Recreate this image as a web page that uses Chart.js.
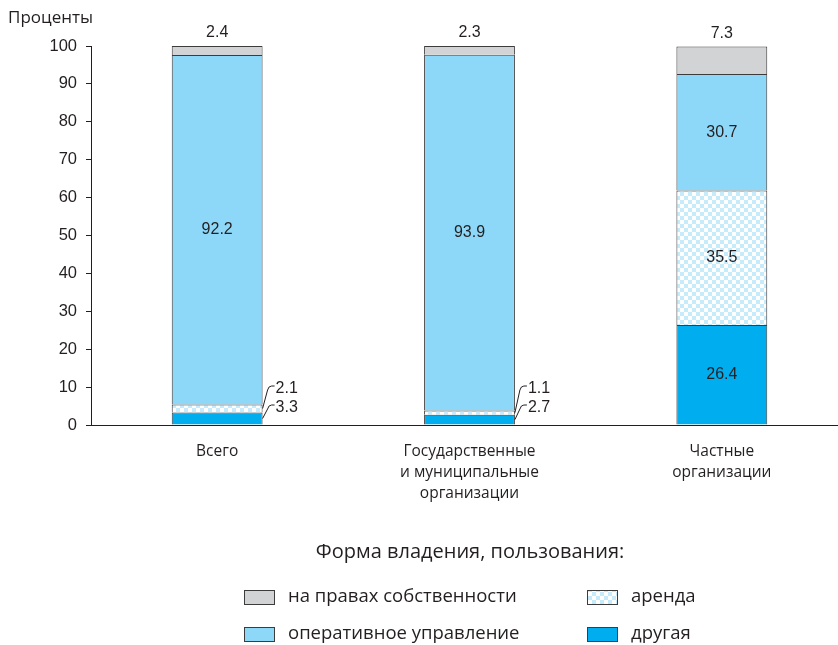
<!DOCTYPE html>
<html lang="ru">
<head>
<meta charset="utf-8">
<script src="https://cdn.jsdelivr.net/npm/chart.js@4.4.1/dist/chart.umd.min.js"></script>
<style>
    html, body { margin: 0; padding: 0; background: #fff; overflow: hidden; }
    #wrap { width: 838px; height: 645px; overflow: hidden; position: relative; }
    #grafica { position: absolute; left: 0; top: 0; }
</style>
</head>
<body>
<div id="wrap"><canvas id="grafica" width="850" height="645"></canvas></div>
<script>
/* Форма владения / пользования помещениями, проценты */

// DATOS
const categorias = [
    ['Всего'],
    ['Государственные', 'и муниципальные', 'организации'],
    ['Частные', 'организации']
];
const nombres = ['другая', 'аренда', 'оперативное управление', 'на правах собственности'];
const drugaya = [3.3, 2.7, 26.4];
const arenda = [2.1, 1.1, 35.5];
const operativnoe = [92.2, 93.9, 30.7];
const sobstvennost = [2.4, 2.3, 7.3];
const marcasY = [0, 10, 20, 30, 40, 50, 60, 70, 80, 90, 100];

const fuenteNum = '"Liberation Sans Narrow", "Liberation Sans", sans-serif';
const fuenteTxt = '"Open Sans", "Noto Sans", sans-serif';
const colorTexto = '#231f20';
const colorBorde = '#3c3c3c';

// patrón a cuadros para "аренда"
const ctxPrincipal = document.getElementById('grafica').getContext('2d');
function crearPatron() {
    const c = document.createElement('canvas');
    c.width = 8; c.height = 8;
    const g = c.getContext('2d');
    g.fillStyle = '#ffffff'; g.fillRect(0, 0, 8, 8);
    g.fillStyle = '#c6ebfb';
    g.fillRect(0, 0, 4, 4);
    g.fillRect(4, 4, 4, 4);
    return ctxPrincipal.createPattern(c, 'repeat');
}
const patronArenda = crearPatron();
const colores = ['#00aeef', patronArenda, '#8dd8f8', '#d2d3d5'];

// etiquetas de valores
const pluginEtiquetas = {
    id: 'etiquetas',
    afterDatasetsDraw(chart) {
        const ctx = chart.ctx;
        const base = chart.scales.y.getPixelForValue(0);
        ctx.save();
        ctx.font = '16px ' + fuenteNum;
        ctx.fillStyle = colorTexto;
        ctx.strokeStyle = colorTexto;
        ctx.lineWidth = 1;
        chart.data.datasets.forEach((ds, d) => {
            chart.getDatasetMeta(d).data.forEach((bar, i) => {
                const v = ds.data[i];
                const txt = v.toFixed(1);
                ctx.textBaseline = 'middle';
                if (d === 3) {
                    ctx.textAlign = 'center';
                    ctx.fillText(txt, bar.x, bar.y - 13);
                } else if (v < 5) {
                    const der = bar.x + bar.width / 2;
                    const medio = (bar.y + bar.base) / 2;
                    const ly = base - (d === 0 ? 17 : 36);
                    ctx.beginPath();
                    ctx.moveTo(der, medio);
                    ctx.lineTo(der + 5, ly + 1);
                    ctx.quadraticCurveTo(der + 6, ly - 3, der + 9, ly - 3);
                    ctx.lineTo(der + 12, ly - 3);
                    ctx.stroke();
                    ctx.textAlign = 'left';
                    ctx.fillText(txt, der + 13, ly);
                } else {
                    ctx.textAlign = 'center';
                    ctx.fillText(txt, bar.x, (bar.y + bar.base) / 2);
                }
            });
        });
        ctx.restore();
    }
};

// título del eje y leyenda en dos columnas
const pluginLeyenda = {
    id: 'leyenda',
    afterDraw(chart) {
        const ctx = chart.ctx;
        ctx.save();
        ctx.fillStyle = colorTexto;
        ctx.textBaseline = 'middle';
        ctx.textAlign = 'left';
        ctx.font = '17px ' + fuenteTxt;
        ctx.fillText('Проценты', 8, 18);

        ctx.textAlign = 'center';
        ctx.font = '20px ' + fuenteTxt;
        ctx.fillText('Форма владения, пользования:', 470, 552);

        const items = [
            { d: 3, x: 244, y: 597 },
            { d: 1, x: 587, y: 597 },
            { d: 2, x: 244, y: 634 },
            { d: 0, x: 587, y: 634 }
        ];
        ctx.font = '18.5px ' + fuenteTxt;
        ctx.textAlign = 'left';
        items.forEach(it => {
            ctx.fillStyle = colores[it.d];
            ctx.fillRect(it.x, it.y - 7, 30, 14);
            ctx.strokeStyle = colorBorde;
            ctx.lineWidth = 1;
            ctx.strokeRect(it.x + 0.5, it.y - 6.5, 30, 14);
            ctx.fillStyle = colorTexto;
            ctx.fillText(nombres[it.d], it.x + 44, it.y);
        });
        ctx.restore();
    }
};

const series = [drugaya, arenda, operativnoe, sobstvennost];

new Chart(ctxPrincipal, {
    type: 'bar',
    data: {
        labels: categorias,
        datasets: series.map((s, d) => ({
            label: nombres[d],
            data: s,
            backgroundColor: colores[d],
            borderColor: colorBorde,
            borderWidth: 1,
            categoryPercentage: 1,
            barPercentage: 0.36
        }))
    },
    options: {
        responsive: false,
        animation: false,
        layout: { padding: { top: 46, right: 2, bottom: 0, left: 0 } },
        plugins: { legend: { display: false }, tooltip: { enabled: false } },
        scales: {
            x: {
                stacked: true,
                grid: { display: false },
                border: { display: true, color: colorTexto, width: 1 },
                ticks: {
                    color: colorTexto,
                    font: { family: fuenteTxt, size: 15.5, lineHeight: 1.35 },
                    padding: 8,
                    maxRotation: 0,
                    autoSkip: false
                },
                afterFit(scale) { scale.height = 220; }
            },
            y: {
                stacked: true,
                min: 0,
                max: 100,
                afterBuildTicks(scale) { scale.ticks = marcasY.map(v => ({ value: v })); },
                grid: { drawOnChartArea: false, tickLength: 5, color: colorTexto },
                border: { display: true, color: colorTexto, width: 1 },
                ticks: {
                    color: colorTexto,
                    font: { family: fuenteNum, size: 16.5 },
                    padding: 9
                },
                afterFit(scale) { scale.width = 91; }
            }
        }
    },
    plugins: [pluginEtiquetas, pluginLeyenda]
});
</script>
</body>
</html>
